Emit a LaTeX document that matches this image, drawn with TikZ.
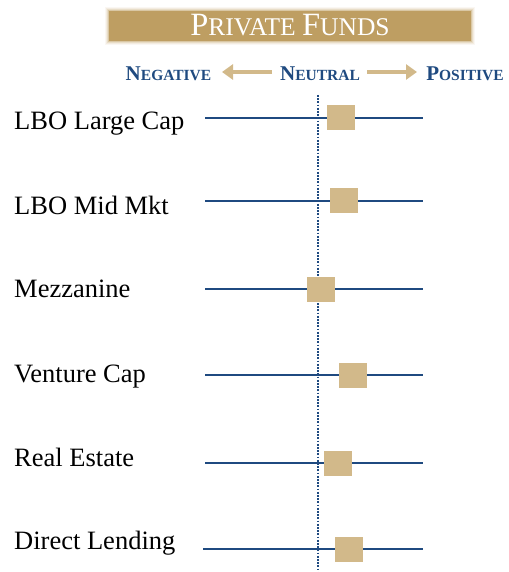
\documentclass[tikz,border=0pt]{standalone}
\usepackage{fontspec}
\setmainfont{Liberation Serif}
\usetikzlibrary{arrows.meta}
\definecolor{gold}{HTML}{BE9E62}
\definecolor{tan}{HTML}{D2B98A}
\definecolor{navy}{HTML}{1F4A80}
\tikzset{
  rowlabel/.style={anchor=base west, inner sep=0pt, font=\fontsize{26.5}{30}\selectfont, text=black},
  rowline/.style={draw=navy, line width=1.6pt},
  marker/.style={fill=tan, draw=none, minimum width=28pt, minimum height=25pt, inner sep=0pt},
  legend/.style={inner sep=0pt, text=navy, font=\bfseries},
  legarrow/.style={draw=tan, line width=3.2pt, -{Triangle[length=11pt,width=15pt]}},
}
\newcommand{\bigsm}[2]{{\fontsize{#1}{#1}\selectfont #2}}
\begin{document}
\begin{tikzpicture}[x=1pt,y=-1pt]
\useasboundingbox (0,0) rectangle (508,572);
% banner with soft edge
\foreach \o/\op in {4/0.08,3/0.12,2/0.2,1/0.35}{
  \fill[gold,opacity=\op] (109-\o,11-\o) rectangle (471+\o,41+\o);
}
\fill[gold] (109,11) rectangle (471,41);
\node[inner sep=0pt, text=white, anchor=base] (title) at (290,36)
  {\bigsm{32.5}{P}\bigsm{25.5}{RIVATE }\bigsm{32.5}{F}\bigsm{25.5}{UNDS}};
% legend
\node[legend, anchor=base] (neg) at (168.5,81) {\bigsm{21}{N}\bigsm{15.5}{EGATIVE}};
\node[legend, anchor=base] (neu) at (320,81) {\bigsm{21}{N}\bigsm{15.5}{EUTRAL}};
\node[legend, anchor=base] (pos) at (465,81) {\bigsm{21}{P}\bigsm{15.5}{OSITIVE}};
\coordinate (la1) at (272,72); \coordinate (la2) at (222,72);
\coordinate (ra1) at (367,72); \coordinate (ra2) at (417,72);
\draw[legarrow] (la1) -- (la2);
\draw[legarrow] (ra1) -- (ra2);
% neutral dotted line
\coordinate (dtop) at (318,95); \coordinate (dbot) at (318,572);
\draw[navy, line width=1.8pt, dash pattern=on 1.8pt off 1.4pt] (dtop) -- (dbot);
% rows
\foreach \i/\lab/\ly/\lb/\bx/\xs/\lw in {
  1/LBO Large Cap/118/130/341/205/1.7,
  2/LBO Mid Mkt/200.7/214/343.5/205/2.4,
  3/Mezzanine/289/297/321/205/1.7,
  4/Venture Cap/375/382/353/205/1.7,
  5/Real Estate/463.3/466/337.5/205/1.7,
  6/Direct Lending/549/549.5/349/203/1.7}{
  \node[rowlabel] (lab\i) at (14,\lb) {\lab};
  \coordinate (ls\i) at (\xs,\ly);
  \coordinate (le\i) at (423,\ly);
  \draw[rowline, line width=\lw pt] (ls\i) -- (le\i);
  \node[marker] (box\i) at (\bx,\ly) {};
}
\end{tikzpicture}
\end{document}
